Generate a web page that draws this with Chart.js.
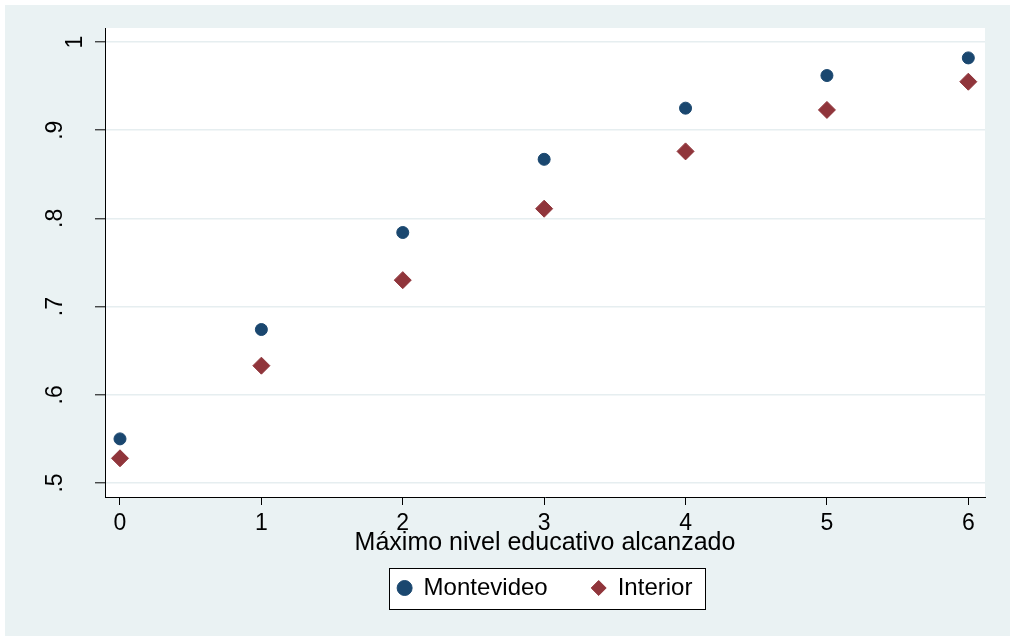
<!DOCTYPE html>
<html>
<head>
<meta charset="utf-8">
<title>Máximo nivel educativo alcanzado</title>
<script src="https://cdn.jsdelivr.net/npm/chart.js@4.4.1/dist/chart.umd.min.js"></script>
<style>
  html, body { margin: 0; padding: 0; background: #ffffff; }
  canvas { display: block; }
</style>
</head>
<body>
<canvas id="chart" width="1010" height="636"></canvas>
<script>
// Education level (x) and share per region (y)
const levels = [0, 1, 2, 3, 4, 5, 6];
const xTickLabels = ['0', '1', '2', '3', '4', '5', '6'];
const montevideo = [0.550, 0.674, 0.784, 0.867, 0.925, 0.962, 0.982];
const interior = [0.528, 0.633, 0.730, 0.811, 0.876, 0.923, 0.955];
const yTickValues = [0.5, 0.6, 0.7, 0.8, 0.9, 1.0];
const yTickLabels = ['.5', '.6', '.7', '.8', '.9', '1'];
const seriesNames = ['Montevideo', 'Interior'];
const xTitle = 'Máximo nivel educativo alcanzado';

const NAVY = '#1a476f';
const MAROON = '#90353b';
const PANEL = '#eaf2f3';

Chart.defaults.font.family = "'Liberation Sans', Arial, sans-serif";
Chart.defaults.color = '#000000';

const toPoints = ys => levels.map((x, i) => ({ x: x, y: ys[i] }));

// Stata-like frame: tinted outer panel, white plot region, boxed legend
const framePlugin = {
  id: 'frame',
  beforeDraw(chart) {
    const ctx = chart.ctx;
    const a = chart.chartArea;
    ctx.save();
    ctx.fillStyle = '#ffffff';
    ctx.fillRect(0, 0, chart.width, chart.height);
    ctx.fillStyle = PANEL;
    ctx.fillRect(5, 5, chart.width - 5, chart.height - 5);
    ctx.fillStyle = '#ffffff';
    ctx.fillRect(a.left, a.top, a.right - a.left, a.bottom - a.top);

    const hb = chart.legend && chart.legend.legendHitBoxes;
    if (hb && hb.length) {
      const first = hb[0];
      const last = hb[hb.length - 1];
      const cy = first.top + first.height / 2;
      const left = Math.round(first.left - 9) + 0.5;
      const right = Math.round(last.left + last.width + 13) + 0.5;
      const top = Math.round(cy - 20.5) + 0.5;
      const bottom = Math.round(cy + 20.5) + 0.5;
      ctx.fillStyle = '#ffffff';
      ctx.fillRect(left, top, right - left, bottom - top);
      ctx.strokeStyle = '#000000';
      ctx.lineWidth = 1;
      ctx.strokeRect(left, top, right - left, bottom - top);
    }
    ctx.restore();
  }
};

new Chart(document.getElementById('chart'), {
  type: 'scatter',
  data: {
    datasets: [
      {
        label: seriesNames[0],
        data: toPoints(montevideo),
        pointStyle: 'circle',
        pointRadius: 6,
        pointHoverRadius: 6,
        borderWidth: 1,
        backgroundColor: NAVY,
        borderColor: NAVY
      },
      {
        label: seriesNames[1],
        data: toPoints(interior),
        pointStyle: 'rectRot',
        pointRadius: 8.5,
        pointHoverRadius: 8.5,
        borderWidth: 1,
        backgroundColor: MAROON,
        borderColor: MAROON
      }
    ]
  },
  options: {
    responsive: false,
    animation: false,
    devicePixelRatio: 1,
    layout: { padding: { left: 0, top: 28, right: 25, bottom: 26 } },
    plugins: {
      tooltip: { enabled: false },
      legend: {
        position: 'bottom',
        fullSize: false,
        labels: {
          usePointStyle: true,
          boxWidth: 14,
          boxHeight: 10.6,
          padding: 44,
          color: '#000000',
          font: { size: 24 }
        }
      }
    },
    scales: {
      x: {
        type: 'linear',
        min: -0.106,
        max: 6.118,
        afterBuildTicks(scale) {
          scale.ticks = levels.map(v => ({ value: v }));
        },
        afterFit(scale) {
          scale.height = 35;
          scale.paddingLeft = 0;
          scale.paddingRight = 0;
        },
        border: { display: true, color: '#000000', width: 1 },
        grid: {
          drawOnChartArea: false,
          drawTicks: true,
          tickLength: 8,
          tickWidth: 1,
          tickColor: '#000000'
        },
        ticks: {
          padding: 5,
          color: '#000000',
          font: { size: 23 },
          callback: (value, index) => xTickLabels[index]
        },
        title: {
          display: true,
          text: xTitle,
          color: '#000000',
          font: { size: 25 },
          padding: { top: 0, bottom: -26 }
        }
      },
      y: {
        type: 'linear',
        min: 0.4841,
        max: 1.0159,
        afterBuildTicks(scale) {
          scale.ticks = yTickValues.map(v => ({ value: v }));
        },
        afterFit(scale) {
          scale.width = 105;
          scale.paddingTop = 0;
          scale.paddingBottom = 0;
        },
        border: { display: true, color: '#000000', width: 1 },
        grid: {
          drawOnChartArea: true,
          color: '#e6eef0',
          lineWidth: 1.6,
          drawTicks: true,
          tickLength: 10,
          tickWidth: 1,
          tickColor: '#000000'
        },
        ticks: {
          minRotation: 90,
          maxRotation: 90,
          crossAlign: 'center',
          padding: 30,
          color: '#000000',
          font: { size: 23, lineHeight: 1.74 },
          // the whole-number label sits one line outward in the rotated column
          callback: (value, index) =>
            Number.isInteger(value) ? ['', yTickLabels[index]] : yTickLabels[index]
        }
      }
    }
  },
  plugins: [framePlugin]
});
</script>
</body>
</html>
